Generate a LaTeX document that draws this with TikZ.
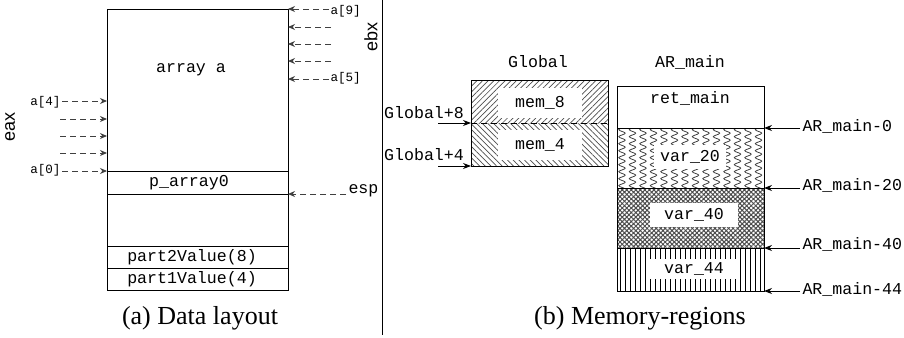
\documentclass[tikz,border=0pt]{standalone}
\usepackage{fontspec}
\setmainfont{Liberation Serif}
\setmonofont{Liberation Mono}
\setsansfont{Liberation Sans}
\usetikzlibrary{patterns,patterns.meta,decorations.pathmorphing,arrows.meta}
\begin{document}
\begin{tikzpicture}[x=0.5pt,y=-0.5pt,line width=0.5pt,
  lbl/.style={font=\fontsize{8.3}{9}\ttfamily,inner sep=1pt},
  smalllbl/.style={font=\fontsize{6.3}{7}\ttfamily,inner sep=0.5pt},
  reglbl/.style={font=\fontsize{9}{10}\sffamily,inner sep=0pt,rotate=90},
  captext/.style={font=\fontsize{13}{15}\selectfont,inner sep=0pt},
  dasharr/.style={dash pattern=on 3pt off 2pt,draw=black!75,-{Stealth[length=3.5pt,width=3pt]}},
  solidarr/.style={-{Stealth[length=4pt,width=3pt]}}]
\useasboundingbox (0,0) rectangle (904,337);

% ---------- (a) Data layout ----------
\draw (107,9) rectangle (288,290);
\draw (107,171) -- (288,171);
\draw (107,194) -- (288,194);
\draw (107,246) -- (288,246);
\draw (107,268) -- (288,268);
\node[lbl] (arr) at (191,70) {array a};
\node[lbl] (parr) at (189,183) {p\_array0};
\node[lbl] (p2) at (192,257) {part2Value(8)};
\node[lbl] (p1) at (192,279) {part1Value(4)};

% left (eax) arrows
\node[reglbl] (eax) at (10,127) {eax};
\node[smalllbl,anchor=east] (a4) at (62,102) {a[4]};
\node[smalllbl,anchor=east] (a0) at (62,170) {a[0]};
\coordinate (l1) at (60,119);
\coordinate (l2) at (60,136);
\coordinate (l3) at (60,153);
\coordinate (t4) at (107,101);
\coordinate (t1) at (107,119);
\coordinate (t2) at (107,136);
\coordinate (t3) at (107,153);
\coordinate (t0) at (107,171);
\draw[dasharr] (a4.east |- t4) -- (t4);
\draw[dasharr] (l1) -- (t1);
\draw[dasharr] (l2) -- (t2);
\draw[dasharr] (l3) -- (t3);
\draw[dasharr] (a0.east |- t0) -- (t0);

% right (ebx) arrows
\node[reglbl] (ebx) at (371,37) {ebx};
\node[smalllbl,anchor=west] (a9) at (329,11) {a[9]};
\node[smalllbl,anchor=west] (a5) at (329,78) {a[5]};
\coordinate (r1) at (331,27);
\coordinate (r2) at (331,44);
\coordinate (r3) at (331,61);
\coordinate (s9) at (288,9);
\coordinate (s1) at (288,27);
\coordinate (s2) at (288,44);
\coordinate (s3) at (288,61);
\coordinate (s5) at (288,79);
\draw[dasharr] (a9.west |- s9) -- (s9);
\draw[dasharr] (r1) -- (s1);
\draw[dasharr] (r2) -- (s2);
\draw[dasharr] (r3) -- (s3);
\draw[dasharr] (a5.west |- s5) -- (s5);
\node[lbl,anchor=west] (esp) at (346,191) {esp};
\coordinate (sesp) at (288,194);
\draw[dasharr] (esp.west |- sesp) -- (sesp);

\node[captext] (capa) at (200,318) {(a) Data layout};

% separator
\draw (382,0) -- (382,335);

% ---------- (b) Memory-regions ----------
\node[lbl] (gtitle) at (538,62) {Global};
\fill[pattern={Lines[angle=45,distance=2pt,line width=0.35pt]},pattern color=black!70] (471,80) rectangle (608,123);
\fill[pattern={Lines[angle=-45,distance=2pt,line width=0.35pt]},pattern color=black!70] (471,123) rectangle (608,166);
\draw (471,80) rectangle (608,166);
\draw[densely dashed] (471,123) -- (608,123);
\node[lbl,fill=white,minimum width=42pt,minimum height=15pt] (m8) at (540,103) {mem\_8};
\node[lbl,fill=white,minimum width=42pt,minimum height=15pt] (m4) at (540,145) {mem\_4};
\node[lbl] (g8) at (424,113) {Global+8};
\node[lbl] (g4) at (424,155) {Global+4};
\coordinate (g8s) at (438,123);
\coordinate (g4s) at (438,166);
\coordinate (g8t) at (471,123);
\coordinate (g4t) at (471,166);
\draw[solidarr] (g8s) -- (g8t);
\draw[solidarr] (g4s) -- (g4t);

\node[lbl] (artitle) at (690,62) {AR\_main};
% var_20 wavy
\begin{scope}
  \clip (617,128) rectangle (764,188);
  \foreach \x in {622,632.5,...,764}
    \draw[line width=0.4pt,black!75,decorate,decoration={snake,segment length=3.5pt,amplitude=1.6pt}] (\x,124) -- (\x,192);
\end{scope}
% var_40 dots
\fill[pattern={Hatch[angle=45,distance=1.6pt,line width=0.5pt]},pattern color=black!70] (617,188) rectangle (764,248);
% var_44 vertical lines
\fill[pattern={Lines[angle=90,distance=2.5pt,line width=0.5pt]},pattern color=black] (617,248) rectangle (764,291);
\draw (617,86) rectangle (764,291);
\draw (617,128) -- (764,128);
\draw (617,188) -- (764,188);
\draw (617,248) -- (764,248);
\node[lbl] (ret) at (690,98) {ret\_main};
\node[lbl,fill=white,inner xsep=3pt,inner ysep=3pt] (v20) at (690,157) {var\_20};
\node[lbl,fill=white,minimum width=44pt,minimum height=12pt] (v40) at (694,215) {var\_40};
\node[lbl,fill=white,minimum width=44pt,minimum height=10pt] (v44) at (694,269) {var\_44};

\node[lbl,anchor=west] (ar0) at (800,126) {AR\_main-0};
\node[lbl,anchor=west] (ar20) at (800,185) {AR\_main-20};
\node[lbl,anchor=west] (ar40) at (800,244) {AR\_main-40};
\node[lbl,anchor=west] (ar44) at (800,289) {AR\_main-44};
\coordinate (b0) at (764,128);
\coordinate (b20) at (764,188);
\coordinate (b40) at (764,248);
\coordinate (b44) at (764,291);
\draw[solidarr] (ar0.west |- b0) -- (b0);
\draw[solidarr] (ar20.west |- b20) -- (b20);
\draw[solidarr] (ar40.west |- b40) -- (b40);
\draw[solidarr] (ar44.west |- b44) -- (b44);

\node[captext] (capb) at (640,318) {(b) Memory-regions};
\end{tikzpicture}
\end{document}
